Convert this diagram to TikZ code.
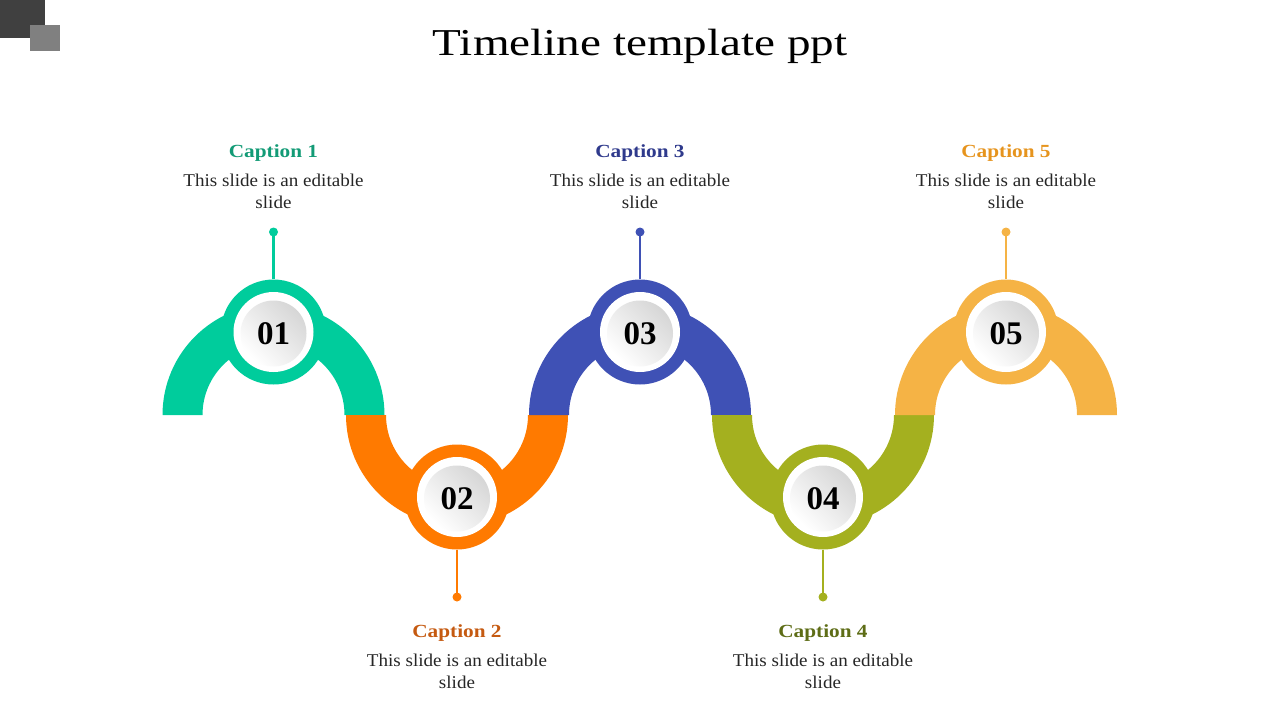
\documentclass[tikz,border=0pt]{standalone}
\usepackage{fontspec}
\setmainfont{Liberation Serif}
\newfontfamily\titlefont[FakeStretch=1.24]{Liberation Serif}
\newfontfamily\capfont[FakeStretch=1.15]{Liberation Serif}
\newfontfamily\bodyfont[FakeStretch=1.06]{Liberation Serif}
\definecolor{sqdark}{RGB}{64,64,64}
\definecolor{sqlight}{RGB}{128,128,128}
\definecolor{cgreen}{RGB}{0,204,156}
\definecolor{corange}{RGB}{255,122,0}
\definecolor{cblue}{RGB}{63,81,181}
\definecolor{colive}{RGB}{164,176,31}
\definecolor{cyellow}{RGB}{245,179,69}
\definecolor{tgreen}{RGB}{19,155,118}
\definecolor{torange}{RGB}{197,90,17}
\definecolor{tblue}{RGB}{47,58,140}
\definecolor{tolive}{RGB}{94,109,23}
\definecolor{tyellow}{RGB}{230,148,30}
\definecolor{bodytext}{RGB}{38,38,38}
\newcommand{\toparc}[2]{\fill[#2] (#1-111,-415) arc[start angle=180,end angle=0,radius=111] -- (#1+71,-415) arc[start angle=0,end angle=180,radius=71] -- cycle;}
\newcommand{\botarc}[2]{\fill[#2] (#1-111,-415) arc[start angle=180,end angle=360,radius=111] -- (#1+71,-415) arc[start angle=360,end angle=180,radius=71] -- cycle;}
\tikzset{
  ring/.style={circle, fill=#1, minimum size=105pt, inner sep=0pt},
  whitedisc/.style={circle, fill=white, minimum size=80pt, inner sep=0pt},
  numdisc/.style={circle, minimum size=66pt, inner sep=0pt, shading=axis, top color=black!16, bottom color=white, shading angle=-45, font=\fontsize{33}{35}\selectfont\bfseries, text=black},
  pindot/.style={circle, fill=#1, minimum size=9pt, inner sep=0pt},
  pinline/.style={draw=#1, line width=2.4pt},
  captext/.style={anchor=base, text=#1, font=\capfont\fontsize{18.5}{20}\selectfont\bfseries},
  bodyline/.style={anchor=base, text=bodytext, font=\bodyfont\fontsize{18}{20}\selectfont},
  titletext/.style={anchor=base, text=black, font=\titlefont\fontsize{38}{42}\selectfont}
}
\begin{document}
\begin{tikzpicture}[x=1pt,y=1pt]
\useasboundingbox (0,0) rectangle (1280,-720);
% corner squares
\fill[sqdark] (0,0) rectangle (45,-38);
\fill[sqlight] (30,-25) rectangle (60,-51);
% title
\node[titletext] (title) at (640,-55) {Timeline template ppt};
% wave arcs
\toparc{273.5}{cgreen}
\botarc{457}{corange}
\toparc{640}{cblue}
\botarc{823}{colive}
\toparc{1006}{cyellow}
% circles
\node[ring=cgreen] (c1) at (273.5,-332) {};
\node[ring=corange] (c2) at (457,-497) {};
\node[ring=cblue] (c3) at (640,-332) {};
\node[ring=colive] (c4) at (823,-497) {};
\node[ring=cyellow] (c5) at (1006,-332) {};
\foreach \i in {1,...,5} {\node[whitedisc] (w\i) at (c\i) {};}
\node[numdisc] (n1) at ([yshift=-1.5pt]c1) {01};
\node[numdisc] (n2) at ([yshift=-1.5pt]c2) {02};
\node[numdisc] (n3) at ([yshift=-1.5pt]c3) {03};
\node[numdisc] (n4) at ([yshift=-1.5pt]c4) {04};
\node[numdisc] (n5) at ([yshift=-1.5pt]c5) {05};
% pins
\node[pindot=cgreen] (p1) at (273.5,-232) {};
\node[pindot=corange] (p2) at (457,-597) {};
\node[pindot=cblue] (p3) at (640,-232) {};
\node[pindot=colive] (p4) at (823,-597) {};
\node[pindot=cyellow] (p5) at (1006,-232) {};
\draw[pinline=cgreen] (c1.north) -- (p1.center);
\draw[pinline=corange] (c2.south) -- (p2.center);
\draw[pinline=cblue] (c3.north) -- (p3.center);
\draw[pinline=colive] (c4.south) -- (p4.center);
\draw[pinline=cyellow] (c5.north) -- (p5.center);
% captions top
\node[captext=tgreen] (cap1) at (273.5,-157) {Caption 1};
\node[bodyline] (b1a) at (273.5,-186) {This slide is an editable};
\node[bodyline] (b1b) at (273.5,-208) {slide};
\node[captext=tblue] (cap3) at (640,-157) {Caption 3};
\node[bodyline] (b3a) at (640,-186) {This slide is an editable};
\node[bodyline] (b3b) at (640,-208) {slide};
\node[captext=tyellow] (cap5) at (1006,-157) {Caption 5};
\node[bodyline] (b5a) at (1006,-186) {This slide is an editable};
\node[bodyline] (b5b) at (1006,-208) {slide};
% captions bottom
\node[captext=torange] (cap2) at (457,-637) {Caption 2};
\node[bodyline] (b2a) at (457,-666) {This slide is an editable};
\node[bodyline] (b2b) at (457,-688) {slide};
\node[captext=tolive] (cap4) at (823,-637) {Caption 4};
\node[bodyline] (b4a) at (823,-666) {This slide is an editable};
\node[bodyline] (b4b) at (823,-688) {slide};
\end{tikzpicture}
\end{document}
